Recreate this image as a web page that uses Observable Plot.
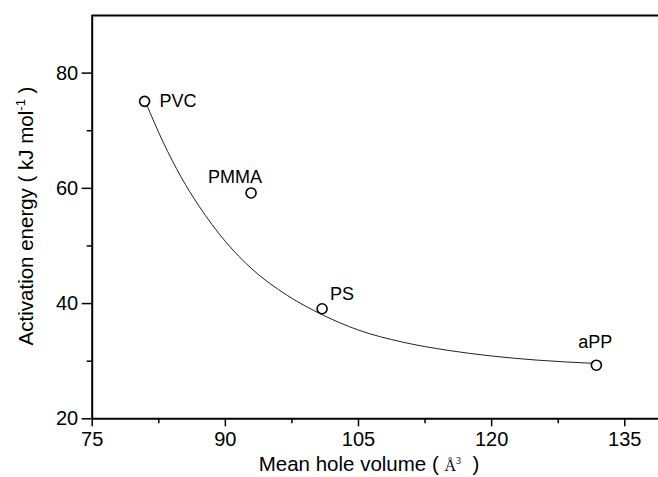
<!DOCTYPE html>
<html><head><meta charset="utf-8">
<script src="https://cdn.jsdelivr.net/npm/d3@7"></script>
<script src="https://cdn.jsdelivr.net/npm/@observablehq/plot@0.6"></script>
<style>body{margin:0;background:#fff;overflow:hidden} svg{display:block}</style>
</head><body><div id="chart"></div>
<script>
const polymers = ["PVC", "PMMA", "PS", "aPP"];
const holeVolume = [80.9, 92.9, 100.9, 131.8];
const activationEnergy = [75.1, 59.2, 39.1, 29.3];
const fitX = [81.0, 83.0, 85.0, 87.0, 90.0, 93.0, 97.0, 101.0, 105.0, 110.0, 115.0, 120.0, 125.0, 131.8];
const fitY = [75.0, 68.0, 62.0, 57.0, 50.8, 46.0, 41.4, 38.0, 35.4, 33.3, 31.9, 30.9, 30.2, 29.6];
const xTicks = [75, 90, 105, 120, 135];
const xMinorTicks = [82.5, 97.5, 112.5, 127.5];
const yTicks = [20, 40, 60, 80];
const yMinorTicks = [30, 50, 70];
const xDomain = [75, 138.8];
const yDomain = [20, 90];

const points = polymers.map((name, i) => ({name, x: holeVolume[i], y: activationEnergy[i]}));
const fit = fitX.map((x, i) => ({x, y: fitY[i]}));
const font = "'Liberation Sans', Arial, Helvetica, sans-serif";

const labelMark = (name, opts) => Plot.text(points.filter(d => d.name === name), {
  x: "x", y: "y", text: "name", fontSize: 18, fill: "black", ...opts
});

const plot = Plot.plot({
  width: 658, height: 477,
  marginLeft: 91.7, marginRight: 0, marginTop: 15, marginBottom: 58.7,
  style: {fontFamily: font, background: "white", color: "black"},
  x: {domain: xDomain},
  y: {domain: yDomain},
  marks: [
    Plot.axisX({ticks: xTicks, tickSize: 8, tickPadding: 5, fontSize: 20, strokeWidth: 1.5, label: null}),
    Plot.axisX({ticks: xMinorTicks, tickSize: 5, tickFormat: () => "", strokeWidth: 1.5, label: null}),
    Plot.axisY({ticks: yTicks, tickSize: 10, tickPadding: 4, fontSize: 20, strokeWidth: 1.5, label: null}),
    Plot.axisY({ticks: yMinorTicks, tickSize: 5, tickFormat: () => "", strokeWidth: 1.5, label: null}),
    Plot.ruleY([yDomain[0]], {stroke: "black", strokeWidth: 2}),
    Plot.ruleY([yDomain[1]], {stroke: "black", strokeWidth: 2}),
    Plot.ruleX([xDomain[0]], {stroke: "black", strokeWidth: 2}),
    Plot.line(fit, {x: "x", y: "y", curve: "monotone-x", stroke: "#222", strokeWidth: 1}),
    Plot.dot(points, {x: "x", y: "y", r: 5, stroke: "black", strokeWidth: 1.6, fill: "white"}),
    labelMark("PVC", {textAnchor: "start", lineAnchor: "middle", dx: 15}),
    labelMark("PMMA", {textAnchor: "middle", lineAnchor: "bottom", dx: -16, dy: -10}),
    labelMark("PS", {textAnchor: "start", lineAnchor: "bottom", dx: 8, dy: -9}),
    labelMark("aPP", {textAnchor: "middle", lineAnchor: "bottom", dx: -1, dy: -17})
  ]
});

const svg = d3.select(plot);
const xt = svg.append("text")
  .attr("x", 369).attr("y", 471)
  .attr("text-anchor", "middle")
  .attr("font-family", font).attr("font-size", 20.5).attr("fill", "black");
xt.append("tspan").text("Mean hole volume ( ");
xt.append("tspan").attr("font-family", "'Liberation Serif', 'DejaVu Serif', serif").attr("font-size", 16).text("Å");
xt.append("tspan").attr("font-family", "'Liberation Serif', 'DejaVu Serif', serif").attr("font-size", 10).attr("dy", -7).text("3");
xt.append("tspan").attr("dy", 7).text("\u00a0\u00a0)");

const yt = svg.append("text")
  .attr("transform", "translate(33,216) rotate(-90)")
  .attr("text-anchor", "middle")
  .attr("font-family", font).attr("font-size", 20.5).attr("fill", "black");
yt.append("tspan").text("Activation energy ( kJ mol");
yt.append("tspan").attr("font-size", 13).attr("dy", -8).text("-1");
yt.append("tspan").attr("dy", 8).text("\u00a0)");

document.getElementById("chart").appendChild(plot);
</script>
</body></html>
